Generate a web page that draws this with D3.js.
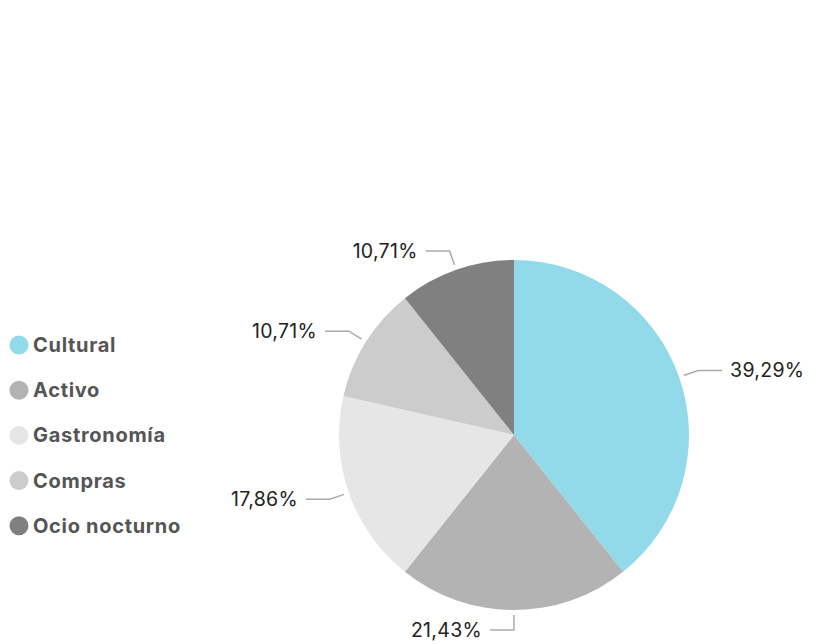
<!DOCTYPE html>
<html>
<head>
<meta charset="utf-8">
<script src="https://cdn.jsdelivr.net/npm/d3@7"></script>
<style>
  body { margin: 0; background: #fff; }
  svg text { font-family: Inter, "Noto Sans", sans-serif; }
</style>
</head>
<body>
<div id="chart"></div>
<script>
const categories = ["Cultural", "Activo", "Gastronomía", "Compras", "Ocio nocturno"];
const values = [39.29, 21.43, 17.86, 10.71, 10.71];
const labels = ["39,29%", "21,43%", "17,86%", "10,71%", "10,71%"];
const colors = ["#92d9ea", "#b3b3b3", "#e6e6e6", "#cccccc", "#808080"];

const width = 829, height = 644;
const cx = 514, cy = 435, radius = 175;

const svg = d3.select("#chart")
  .append("svg")
    .attr("width", width)
    .attr("height", height);

const data = categories.map((c, i) => ({ name: c, value: values[i], label: labels[i], color: colors[i] }));

const pie = d3.pie().sort(null).value(d => d.value);
const arc = d3.arc().innerRadius(0).outerRadius(radius);
const arcs = pie(data);

const g = svg.append("g").attr("transform", `translate(${cx},${cy})`);

g.selectAll("path.slice")
  .data(arcs)
  .enter()
  .append("path")
    .attr("class", "slice")
    .attr("d", arc)
    .attr("fill", d => d.data.color);

// leader lines + labels
const inner = d3.arc().innerRadius(radius + 5).outerRadius(radius + 5);
const elbow = d3.arc().innerRadius(radius + 20).outerRadius(radius + 20);
const side = d => {
  const mid = (d.startAngle + d.endAngle) / 2;
  return mid < Math.PI - 0.001 ? 1 : -1;
};

g.selectAll("polyline")
  .data(arcs)
  .enter()
  .append("polyline")
    .attr("fill", "none")
    .attr("stroke", "#aaaaaa")
    .attr("stroke-width", 1.5)
    .attr("points", d => {
      const a = inner.centroid(d), b = elbow.centroid(d);
      const c = [b[0] + side(d) * 24, b[1]];
      return [a, b, c].map(p => p.join(",")).join(" ");
    });

g.selectAll("text.lbl")
  .data(arcs)
  .enter()
  .append("text")
    .attr("class", "lbl")
    .attr("x", d => elbow.centroid(d)[0] + side(d) * 32)
    .attr("y", d => elbow.centroid(d)[1])
    .attr("dy", "0.35em")
    .attr("text-anchor", d => side(d) > 0 ? "start" : "end")
    .attr("font-size", 19.5)
    .attr("letter-spacing", 0.3)
    .attr("fill", "#222")
    .text(d => d.data.label);

// legend
const legend = svg.append("g").attr("transform", "translate(19,345)");
const item = legend.selectAll("g")
  .data(data)
  .enter()
  .append("g")
    .attr("transform", (d, i) => `translate(0,${i * 45.2})`);
item.append("circle")
  .attr("r", 9.5)
  .attr("fill", d => d.color);
item.append("text")
  .attr("x", 14)
  .attr("dy", "0.35em")
  .attr("font-size", 20)
  .attr("letter-spacing", 0.7)
  .attr("font-weight", 700)
  .attr("fill", "#555")
  .text(d => d.name);
</script>
</body>
</html>
